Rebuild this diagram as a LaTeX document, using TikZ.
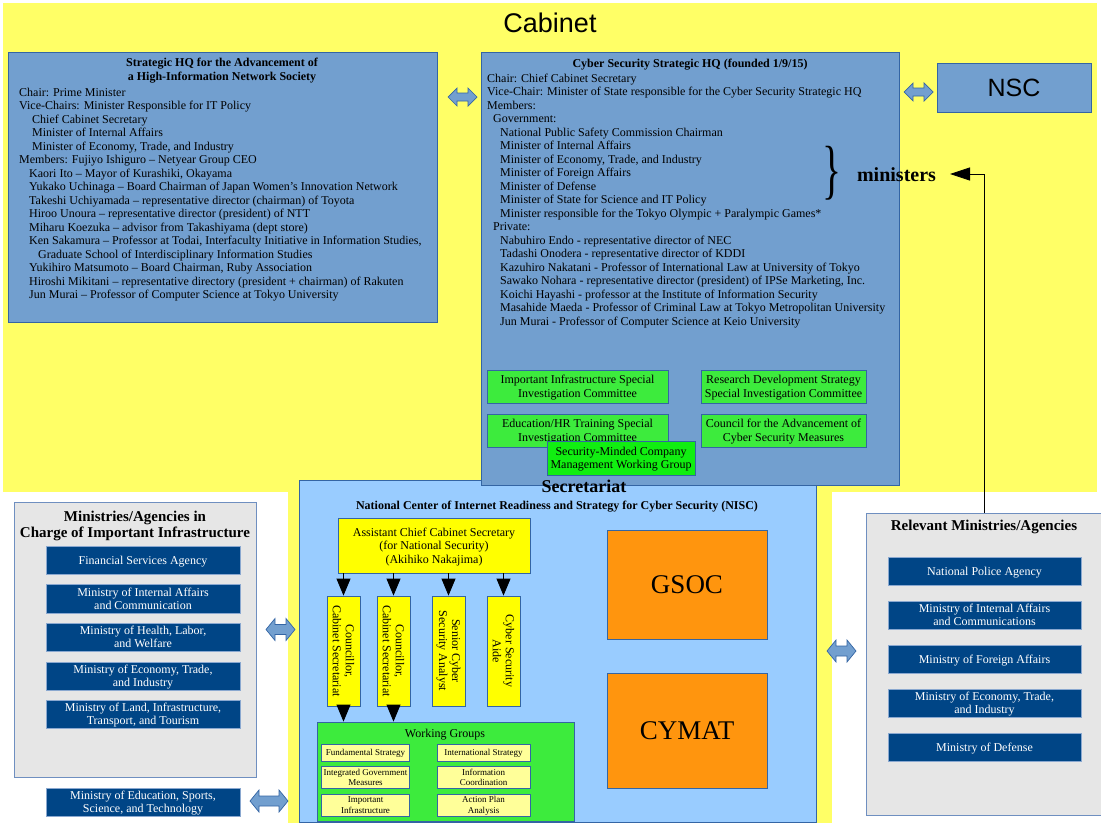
\documentclass[tikz,border=0pt]{standalone}
\usepackage{fontspec}
\usepackage{graphicx}
\setmainfont{Liberation Serif}
\newfontfamily\arialf{Liberation Sans}
\usetikzlibrary{arrows.meta}
\definecolor{cabyel}{HTML}{FFFF66}
\definecolor{hqblue}{HTML}{729FCF}
\definecolor{hqedge}{HTML}{3465A4}
\definecolor{commgreen}{HTML}{3DEB3D}
\definecolor{brightgreen}{HTML}{11EE11}
\definecolor{niscblue}{HTML}{99CCFF}
\definecolor{asstyel}{HTML}{FFFF00}
\definecolor{wgyel}{HTML}{FFFF99}
\definecolor{orangebox}{HTML}{FF950E}
\definecolor{navy}{HTML}{004586}
\definecolor{navyedge}{HTML}{8AA8D0}
\definecolor{panelgrey}{HTML}{E6E6E6}
\definecolor{paneledge}{HTML}{6F8FC0}
\newcommand{\fsz}[2]{\fontsize{#1}{#2}\selectfont}
\newcommand{\dblarrow}[5]{%
  \filldraw[fill=hqblue, draw=hqedge, line width=0.7pt]
    (#1,#3) -- (#1+9,#3-#4) -- (#1+9,#3-#5) -- (#2-9,#3-#5) -- (#2-9,#3-#4)
    -- (#2,#3) -- (#2-9,#3+#4) -- (#2-9,#3+#5) -- (#1+9,#3+#5) -- (#1+9,#3+#4) -- cycle;}
\begin{document}
\begin{tikzpicture}[x=1pt,y=-1pt,
  bx/.style={draw=hqedge, line width=0.8pt, inner sep=0pt, align=center},
  comm/.style={bx, fill=commgreen, font=\fsz{12}{13.5}, text depth=0pt},
  navybox/.style={draw=navyedge, line width=0.6pt, fill=navy, text=white, inner sep=0pt,
     align=center, font=\fsz{12}{13}, text depth=0pt},
  panel/.style={draw=paneledge, line width=0.8pt, fill=panelgrey, inner sep=0pt},
  vbox/.style={bx, fill=asstyel, font=\fsz{12}{13}, rotate=-90, minimum width=110pt, minimum height=33pt},
  wgbox/.style={bx, fill=wgyel, font=\fsz{9}{10.5}, minimum height=22pt, text depth=0pt},
  orbox/.style={bx, fill=orangebox, font=\fsz{27}{30}, minimum width=160pt},
  blackarrow/.style={draw=black, line width=0.8pt, -{Triangle[length=17pt,width=14pt]}},
  bodytext/.style={inner sep=0pt, align=left, anchor=north west, font=\fsz{12}{13.5}},
  ttl/.style={inner sep=0pt, align=center, font=\bfseries\fsz{12}{13.5}}
]
\useasboundingbox (0,0) rectangle (1101,825);
% cabinet background
\fill[cabyel] (3,3) rectangle (1097,492);
\fill[cabyel] (288,490) rectangle (832,823);
\node[font=\arialf\fsz{27}{30}] (cab) at (550,23) {Cabinet};

% NISC (below the HQ box)
\node[bx, fill=niscblue, minimum width=517pt, minimum height=342pt] (nisc) at (557.5,651) {};

% Strategic HQ (left)
\node[bx, fill=hqblue, minimum width=429pt, minimum height=270pt] (hq1) at (222.5,187) {};
\node[ttl] (hq1t) at (222,70.5) {Strategic HQ for the Advancement of\\a High-Information Network Society};
\node[bodytext] (hq1b) at (19,86) {\rule{0pt}{10pt}Chair: Prime Minister\\
Vice-Chairs: Minister Responsible for IT Policy\\
\hspace*{13pt}Chief Cabinet Secretary\\
\hspace*{13pt}Minister of Internal Affairs\\
\hspace*{13pt}Minister of Economy, Trade, and Industry\\
Members: Fujiyo Ishiguro – Netyear Group CEO\\
\hspace*{10pt}Kaori Ito – Mayor of Kurashiki, Okayama\\
\hspace*{10pt}Yukako Uchinaga – Board Chairman of Japan Women’s Innovation Network\\
\hspace*{10pt}Takeshi Uchiyamada – representative director (chairman) of Toyota\\
\hspace*{10pt}Hiroo Unoura – representative director (president) of NTT\\
\hspace*{10pt}Miharu Koezuka – advisor from Takashiyama (dept store)\\
\hspace*{10pt}Ken Sakamura – Professor at Todai, Interfaculty Initiative in Information Studies,\\
\hspace*{19pt}Graduate School of Interdisciplinary Information Studies\\
\hspace*{10pt}Yukihiro Matsumoto – Board Chairman, Ruby Association\\
\hspace*{10pt}Hiroshi Mikitani – representative directory (president + chairman) of Rakuten\\
\hspace*{10pt}Jun Murai – Professor of Computer Science at Tokyo University};

% Cyber Security Strategic HQ
\node[bx, fill=hqblue, minimum width=418pt, minimum height=433pt] (hq2) at (690,268.5) {};
\node[ttl] (hq2t) at (690,65) {Cyber Security Strategic HQ (founded 1/9/15)};
\node[bodytext] (hq2b) at (487,72) {\rule{0pt}{10pt}Chair: Chief Cabinet Secretary\\
Vice-Chair: Minister of State responsible for the Cyber Security Strategic HQ\\
Members:\\
\hspace*{6pt}Government:\\
\hspace*{13pt}National Public Safety Commission Chairman\\
\hspace*{13pt}Minister of Internal Affairs\\
\hspace*{13pt}Minister of Economy, Trade, and Industry\\
\hspace*{13pt}Minister of Foreign Affairs\\
\hspace*{13pt}Minister of Defense\\
\hspace*{13pt}Minister of State for Science and IT Policy\\
\hspace*{13pt}Minister responsible for the Tokyo Olympic + Paralympic Games*\\
\hspace*{6pt}Private:\\
\hspace*{13pt}Nabuhiro Endo - representative director of NEC\\
\hspace*{13pt}Tadashi Onodera - representative director of KDDI\\
\hspace*{13pt}Kazuhiro Nakatani - Professor of International Law at University of Tokyo\\
\hspace*{13pt}Sawako Nohara - representative director (president) of IPSe Marketing, Inc.\\
\hspace*{13pt}Koichi Hayashi - professor at the Institute of Information Security\\
\hspace*{13pt}Masahide Maeda - Professor of Criminal Law at Tokyo Metropolitan University\\
\hspace*{13pt}Jun Murai - Professor of Computer Science at Keio University};

% brace and ministers
\node[inner sep=0pt] (brace) at (832,173.5) {\resizebox*{19pt}{54pt}{\}}};
\node[inner sep=0pt, font=\bfseries\fsz{20}{24}] (min) at (896.5,175) {ministers};
\coordinate (mintip) at (950,174);

% NSC
\node[bx, fill=hqblue, minimum width=154pt, minimum height=49pt, font=\arialf\fsz{25}{28}] (nsc) at (1014,87.5) {NSC};

% committees
\node[comm, minimum width=181pt, minimum height=33pt] (c1) at (577.5,386.5) {Important Infrastructure Special\\Investigation Committee};
\node[comm, minimum width=165pt, minimum height=33pt] (c2) at (783.5,386.5) {Research Development Strategy\\Special Investigation Committee};
\node[comm, minimum width=181pt, minimum height=33pt] (c3) at (577.5,430.5) {Education/HR Training Special\\Investigation Committee};
\node[comm, minimum width=165pt, minimum height=33pt] (c4) at (783.5,430.5) {Council for the Advancement of\\Cyber Security Measures};
\node[comm, fill=brightgreen, minimum width=148pt, minimum height=34pt] (c5) at (621,458) {Security-Minded Company\\Management Working Group};

% Secretariat
\node[inner sep=0pt, font=\bfseries\fsz{18}{20}] (sec) at (584,486) {Secretariat};
\node[ttl] (nisct) at (557,507) {National Center of Internet Readiness and Strategy for Cyber Security (NISC)};

% assistant and staff
\node[bx, fill=asstyel, minimum width=192pt, minimum height=55pt, font=\fsz{12}{13.5}, text depth=0pt] (asst) at (434,545.5) {Assistant Chief Cabinet Secretary\\(for National Security)\\(Akihiko Nakajima)};
\node[vbox] (v1) at (343.5,651) {Councillor,\\Cabinet Secretariat};
\node[vbox] (v2) at (393.5,651) {Councillor,\\Cabinet Secretariat};
\node[vbox] (v3) at (448.5,651) {Senior Cyber\\Security Analyst};
\node[vbox] (v4) at (503.5,651) {Cyber Security\\Aide};
\foreach \v in {v1,v2,v3,v4} {\draw[blackarrow] (\v.west |- asst.south) -- (\v.west);}

% working groups
\node[bx, fill=commgreen, minimum width=257pt, minimum height=99pt] (wg) at (445.5,771.5) {};
\node[inner sep=0pt, font=\fsz{12}{13.5}] (wgt) at (445,735) {Working Groups};
\node[wgbox, minimum width=88pt, minimum height=17pt] (w1) at (365.5,752.5) {Fundamental Strategy};
\node[wgbox, minimum width=93pt, minimum height=17pt] (w2) at (483.5,752.5) {International Strategy};
\node[wgbox, minimum width=88pt] (w3) at (365.5,777.5) {Integrated Government\\Measures};
\node[wgbox, minimum width=93pt] (w4) at (483.5,777.5) {Information\\Coordination};
\node[wgbox, minimum width=88pt] (w5) at (365.5,805) {Important\\Infrastructure};
\node[wgbox, minimum width=93pt] (w6) at (483.5,805) {Action Plan\\Analysis};
\draw[blackarrow] (v1.east) -- (v1.east |- wg.north);
\draw[blackarrow] (v2.east) -- (v2.east |- wg.north);

% GSOC / CYMAT
\node[orbox, minimum height=109pt] (gsoc) at (687,584.5) {GSOC};
\node[orbox, minimum height=115pt] (cymat) at (687,730.5) {CYMAT};

% left panel
\node[panel, minimum width=242pt, minimum height=275pt] (lp) at (135,639.5) {};
\node[inner sep=0pt, align=center, font=\bfseries\fsz{15}{16}] (lpt) at (135,526) {Ministries/Agencies in\\Charge of Important Infrastructure};
\node[navybox, minimum width=194pt, minimum height=28pt] (l1) at (143,560) {Financial Services Agency};
\node[navybox, minimum width=194pt, minimum height=29pt] (l2) at (143,598.5) {Ministry of Internal Affairs\\and Communication};
\node[navybox, minimum width=194pt, minimum height=28pt] (l3) at (143,637) {Ministry of Health, Labor,\\and Welfare};
\node[navybox, minimum width=194pt, minimum height=28pt] (l4) at (143,676) {Ministry of Economy, Trade,\\and Industry};
\node[navybox, minimum width=194pt, minimum height=28pt] (l5) at (143,714) {Ministry of Land, Infrastructure,\\Transport, and Tourism};
\node[navybox, minimum width=194pt, minimum height=28pt] (l6) at (143,802) {Ministry of Education, Sports,\\Science, and Technology};

% right panel
\node[panel, minimum width=237pt, minimum height=302pt] (rel) at (984.5,664) {};
\node[inner sep=0pt, font=\bfseries\fsz{15}{16}] (relt) at (984,527) {Relevant Ministries/Agencies};
\node[navybox, minimum width=193pt, minimum height=28pt] (r1) at (984.5,571) {National Police Agency};
\node[navybox, minimum width=193pt, minimum height=28pt] (r2) at (984.5,615) {Ministry of Internal Affairs\\and Communications};
\node[navybox, minimum width=193pt, minimum height=28pt] (r3) at (984.5,659) {Ministry of Foreign Affairs};
\node[navybox, minimum width=193pt, minimum height=28pt] (r4) at (984.5,703) {Ministry of Economy, Trade,\\and Industry};
\node[navybox, minimum width=193pt, minimum height=28pt] (r5) at (984.5,747) {Ministry of Defense};

% relevant -> ministers
\draw[draw=black, line width=0.8pt, -{Triangle[length=20pt,width=13pt]}] (rel.north) |- (mintip);

% block double arrows
\dblarrow{448}{477}{97}{9}{4}
\dblarrow{904}{933}{92}{9}{4}
\dblarrow{266}{295}{629.5}{11}{5}
\dblarrow{250}{288}{801}{11}{5}
\dblarrow{827}{856}{651}{11}{5}
\end{tikzpicture}
\end{document}
